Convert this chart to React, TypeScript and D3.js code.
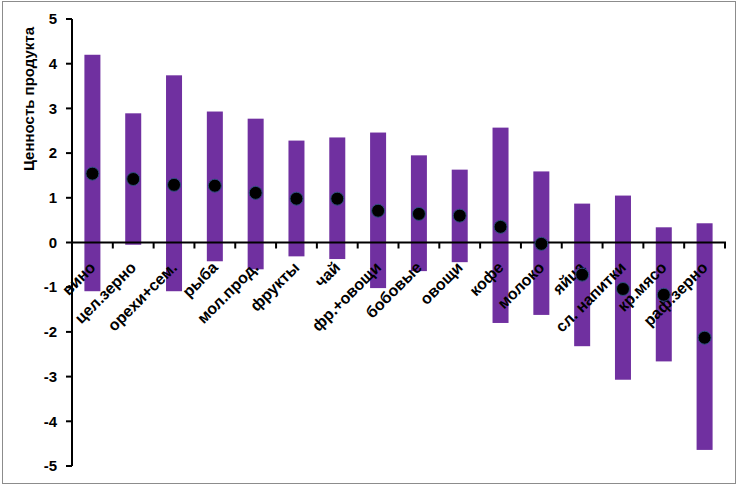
import React from "react";
import * as d3 from "d3";

const categories = ["вино","цел.зерно","орехи+сем.","рыба","мол.прод.","фрукты","чай","фр.+овощи","бобовые","овощи","кофе","молоко","яйца","сл. напитки","кр.мясо","раф.зерно"];
const highValues = [4.2,2.89,3.74,2.93,2.77,2.28,2.35,2.46,1.95,1.63,2.57,1.59,0.87,1.05,0.34,0.43];
const lowValues = [-1.09,-0.05,-1.09,-0.42,-0.6,-0.31,-0.37,-1.02,-0.64,-0.44,-1.8,-1.62,-2.32,-3.07,-2.66,-4.64];
const meanValues = [1.54,1.42,1.29,1.27,1.11,0.98,0.98,0.71,0.64,0.6,0.35,-0.03,-0.72,-1.04,-1.17,-2.13];
const yTicks = [5,4,3,2,1,0,-1,-2,-3,-4,-5];
const yTitle = "Ценность продукта";

const W = 738, H = 486;
const FONT = "'Liberation Sans', Arial, sans-serif";

export default function App() {
  const x = d3.scaleBand<string>().domain(categories).range([72, 725]).paddingInner(0).paddingOuter(0);
  const y = d3.scaleLinear().domain([-5, 5]).range([466, 19]);
  const barW = 16;
  return (
    <svg width={W} height={H} style={{ position: "absolute", left: 0, top: 0 }} xmlns="http://www.w3.org/2000/svg">
      <rect x={0} y={0} width={W} height={H} fill="#fff" />
      <rect x={2.5} y={1.5} width={733} height={482} fill="none" stroke="#8c8c8c" strokeWidth={1} />
      {categories.map((c, i) => {
        const cx = x(c)! + x.bandwidth() / 2;
        return (
          <rect key={"b" + c} x={cx - barW / 2} y={y(highValues[i])} width={barW}
            height={y(lowValues[i]) - y(highValues[i])} fill="#7030A0" />
        );
      })}
      {/* y axis */}
      <line x1={72} x2={72} y1={y(5)} y2={y(-5)} stroke="#000" strokeWidth={2} />
      {yTicks.map(t => (
        <g key={"t" + t}>
          <line x1={66} x2={72} y1={y(t)} y2={y(t)} stroke="#000" strokeWidth={2} />
          <text x={57} y={y(t)} dy="0.35em" textAnchor="end" fontFamily={FONT} fontWeight="bold" fontSize={15} fill="#000">{t}</text>
        </g>
      ))}
      {/* x axis at zero */}
      <line x1={72} x2={726} y1={y(0)} y2={y(0)} stroke="#000" strokeWidth={2} />
      {categories.map((c, i) => (
        <line key={"xt" + c} x1={x(c)! + x.bandwidth()} x2={x(c)! + x.bandwidth()} y1={y(0)} y2={y(0) + 6} stroke="#000" strokeWidth={2} />
      ))}
      {categories.map((c, i) => {
        const cx = x(c)! + x.bandwidth() / 2;
        return (
          <text key={"l" + c} transform={`translate(${cx + 4},${y(0) + 26}) rotate(-45)`} textAnchor="end"
            fontFamily={FONT} fontWeight="bold" fontSize={16} fill="#000">{c}</text>
        );
      })}
      {categories.map((c, i) => {
        const cx = x(c)! + x.bandwidth() / 2;
        return <circle key={"d" + c} cx={cx} cy={y(meanValues[i])} r={6.5} fill="#000" stroke="#2F4F7F" strokeWidth={1} />;
      })}
      <text transform={`translate(34,${99}) rotate(-90)`} textAnchor="middle" fontFamily={FONT} fontWeight="bold" fontSize={15} fill="#000">{yTitle}</text>
    </svg>
  );
}
